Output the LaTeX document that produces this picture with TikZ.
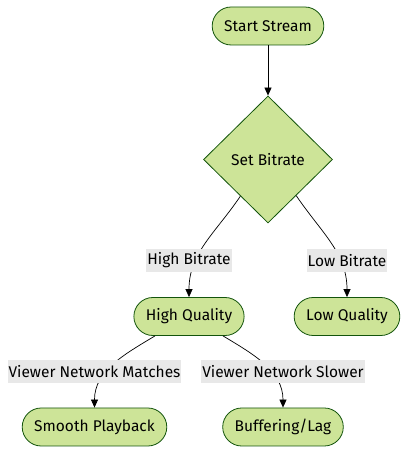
\documentclass[tikz,border=0pt]{standalone}
\usepackage{fontspec}
\setsansfont{Fira Sans}
\usepackage{tikz}
\usetikzlibrary{shapes.geometric,arrows.meta,positioning}

\definecolor{stepfill}{HTML}{CDE498}
\definecolor{stepline}{HTML}{13540C}
\definecolor{labelfill}{HTML}{E8E8E8}

\tikzset{
  stepnode/.style={draw=stepline, fill=stepfill, line width=0.8pt, rounded corners=19pt,
    minimum height=38pt, inner xsep=12pt, font=\sffamily\fontsize{15.5}{17}\selectfont},
  choice/.style={diamond, draw=stepline, fill=stepfill, line width=0.8pt, inner sep=0pt,
    minimum width=129pt, minimum height=127pt, font=\sffamily\fontsize{15.5}{17}\selectfont},
  edgelabel/.style={fill=labelfill, inner xsep=1pt, inner ysep=0pt, minimum height=23pt,
    font=\sffamily\fontsize{15.5}{17}\selectfont},
  flow/.style={->, >={Triangle[length=8pt,width=7pt]}, line width=0.7pt}
}

\begin{document}
\begin{tikzpicture}[x=1pt,y=1pt,on grid]
			\useasboundingbox (0,0) rectangle (417,463);
			\node[stepnode] (start) at (268,437) {Start Stream};
			\node[choice] (sb) [below=133.5pt of start] {Set Bitrate};
			\node[stepnode] (hq) at (189,146.5) {High Quality};
			\node[stepnode] (lq) [right=158pt of hq] {Low Quality};
			\node[stepnode] (sp) at (94.5,36) {Smooth Playback};
			\node[stepnode] (bl) [right=188.5pt of sp] {Buffering/Lag};
			\path[flow]
			(start) edge (sb)
			(sb.233) edge [out=-124, in=90] (hq)
			(sb.-52) edge [out=-56, in=90] (lq)
			([xshift=-34pt]hq.south) edge [out=211, in=90] (sp)
			([xshift=34pt]hq.south) edge [out=-31, in=90] (bl);
			\node[edgelabel] (hb) [above=56pt of hq] {High Bitrate};
			\node[edgelabel] (lb) [above=56pt of lq] {Low Bitrate};
			\node[edgelabel] (vm) [above=55.5pt of sp] {Viewer Network Matches};
			\node[edgelabel] (vs) [above=55.5pt of bl] {Viewer Network Slower};
		\end{tikzpicture}
\end{document}
